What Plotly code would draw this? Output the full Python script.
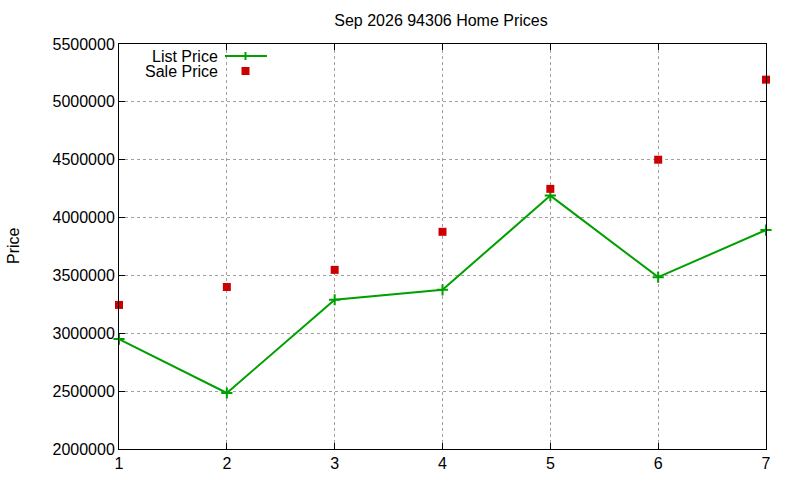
import plotly.graph_objects as go

x_vals = [1, 2, 3, 4, 5, 6, 7]
list_price = [2950000, 2484000, 3290000, 3376000, 4190000, 3485000, 3892000]
sale_price = [3245000, 3400000, 3548000, 3877000, 4248000, 4500000, 5192000]
y_ticks = [2000000, 2500000, 3000000, 3500000, 4000000, 4500000, 5000000, 5500000]

GREEN = "#00a000"
RED = "#cc0000"
FONT = "Liberation Sans, Arial, sans-serif"

W, H = 800, 480
PL, PR, PT, PB = 119, 766, 44, 449  # plot area in pixels
L, T, R, B = PL, PT, W - PR, H - PB
pw, ph = PR - PL, PB - PT

def px(xs):
    return (xs - PL) / pw

def py(ys):
    return (PB - ys) / ph

fig = go.Figure()
fig.add_trace(go.Scatter(x=x_vals, y=list_price, mode="lines+markers", name="List Price",
                         line=dict(color=GREEN, width=2),
                         marker=dict(symbol="cross-thin", size=8, line=dict(color=GREEN, width=2), color=GREEN),
                         cliponaxis=False))
fig.add_trace(go.Scatter(x=x_vals, y=sale_price, mode="markers", name="Sale Price",
                         marker=dict(symbol="square", size=8, color=RED),
                         cliponaxis=False))

# legend (gnuplot style: text right, key sample on right)
fig.add_annotation(x=px(219), y=py(56), xref="paper", yref="paper", text="List Price", height=14, borderpad=0,
                   showarrow=False, xanchor="right", yanchor="middle", font=dict(size=16, color="black", family=FONT))
fig.add_annotation(x=px(219), y=py(71), xref="paper", yref="paper", text="Sale Price", height=14, borderpad=0,
                   showarrow=False, xanchor="right", yanchor="middle", font=dict(size=16, color="black", family=FONT))
fig.add_shape(type="line", xref="paper", yref="paper", x0=px(225), x1=px(267), y0=py(56), y1=py(56),
              line=dict(color=GREEN, width=2))
fig.add_shape(type="line", xref="paper", yref="paper", x0=px(245.5), x1=px(245.5), y0=py(52), y1=py(60),
              line=dict(color=GREEN, width=2))
fig.add_shape(type="rect", xref="paper", yref="paper", x0=px(241.5), x1=px(249.5), y0=py(67), y1=py(75),
              line=dict(width=0), fillcolor=RED)

# y-axis title
fig.add_annotation(x=px(13), y=py(246), xref="paper", yref="paper", text="Price", textangle=-90,
                   showarrow=False, xanchor="center", yanchor="middle", font=dict(size=16, color="black", family=FONT))

fig.update_layout(
    width=W, height=H,
    margin=dict(l=L, r=R, t=T, b=B, autoexpand=False),
    paper_bgcolor="white", plot_bgcolor="white",
    showlegend=False,
    font=dict(family=FONT, size=16, color="black"),
    title=dict(text="Sep 2026 94306 Home Prices", x=441 / W, xanchor="center",
               y=1 - 20 / H, yanchor="middle",
               font=dict(size=16, family=FONT, color="black")),
    xaxis=dict(range=[1, 7], tickvals=x_vals, showgrid=True, gridcolor="#a0a0a0", griddash="dot", gridwidth=1,
               showline=True, linecolor="black", linewidth=1, mirror="ticks", ticks="inside", ticklen=6,
               tickcolor="black", zeroline=False, tickfont=dict(size=16), automargin=False),
    yaxis=dict(range=[2000000, 5500000], tickvals=y_ticks, tickformat="d", showgrid=True, gridcolor="#a0a0a0",
               griddash="dot", gridwidth=1, showline=True, linecolor="black", linewidth=1, mirror="ticks",
               ticks="inside", ticklen=6, tickcolor="black", zeroline=False, tickfont=dict(size=16),
               automargin=False),
)

fig.write_html("out.html", config={"displayModeBar": False},
               post_script="document.body.style.margin='0px';document.body.style.overflow='hidden';")
